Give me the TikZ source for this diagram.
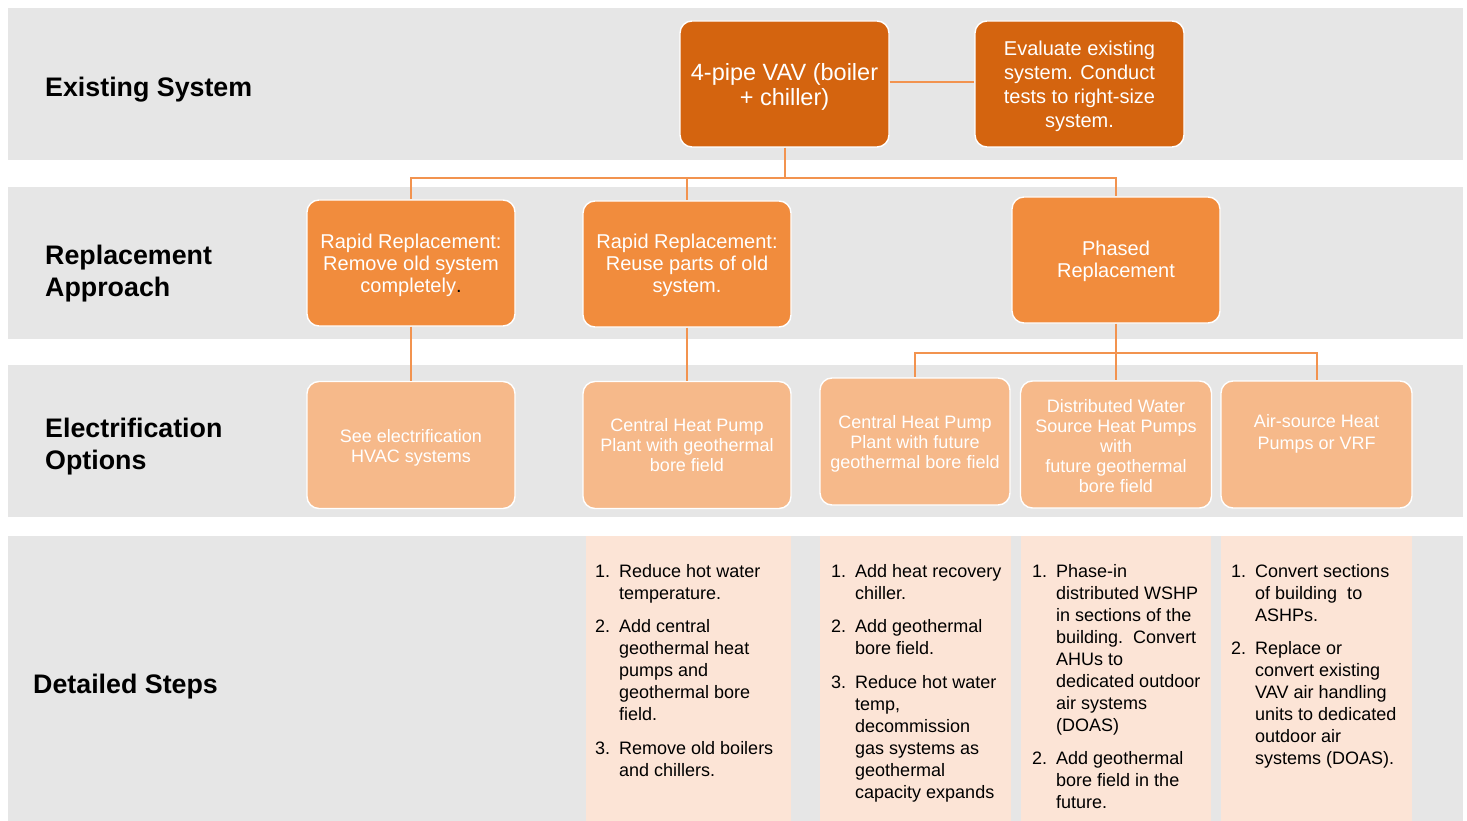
\documentclass[tikz,border=0pt]{standalone}
\usepackage{fontspec}
\setmainfont{Liberation Sans}
\usetikzlibrary{calc}

\definecolor{bandgray}{HTML}{E6E6E6}
\definecolor{darkorg}{HTML}{D4640F}
\definecolor{midorg}{HTML}{F18C3D}
\definecolor{peachorg}{HTML}{F6B98A}
\definecolor{stepfill}{HTML}{FCE4D6}
\definecolor{linecol}{HTML}{F2934F}

% numbered step paragraphs with a hanging indent
\newcommand{\stepline}[2]{\hangindent=24pt\hangafter=1\noindent\makebox[24pt][l]{#1}#2\par}
\newcommand{\steplist}[1]{\vtop{\hsize=240pt\fontsize{18}{22}\selectfont\parindent=0pt\parskip=11.5pt\relax #1}}
% centred box text, lowered a little without changing its size
\newcommand{\boxtxt}[2][-2.5pt]{\raisebox{#1}[\height][\depth]{\begin{tabular}{@{}c@{}}#2\end{tabular}}}

\tikzset{
  rowlabel/.style={anchor=west, align=left, inner sep=0pt, text=black,
    font=\fontsize{26.8}{32}\selectfont\bfseries},
  boxbase/.style={rounded corners=12pt, draw=white, line width=1.4pt,
    align=center, text=white, inner sep=3pt},
  sysbox/.style={boxbase, fill=darkorg, minimum width=209pt, minimum height=126pt},
  appbox/.style={boxbase, fill=midorg, minimum width=208pt, minimum height=126pt,
    font=\fontsize{20}{22}\selectfont},
  optbox/.style={boxbase, fill=peachorg, minimum height=127pt,
    font=\fontsize{18}{20}\selectfont},
  stepcol/.style={fill=stepfill, anchor=north west, inner sep=0pt, minimum height=285pt},
  steptext/.style={anchor=base west, inner sep=0pt, text=black},
  conn/.style={draw=linecol, line width=2pt},
}

\begin{document}
\begin{tikzpicture}[x=1pt, y=-1pt]
  \fill[white] (0,0) rectangle (1467,821);
  \useasboundingbox (0,0) rectangle (1467,821);

  % horizontal bands
  \fill[bandgray] (8,8) rectangle (1463,160);
  \fill[bandgray] (8,187) rectangle (1463,339);
  \fill[bandgray] (8,365) rectangle (1463,517);
  \fill[bandgray] (8,536) rectangle (1463,821);

  % row labels
  \node[rowlabel] (L1) at (45,90) {Existing System};
  \node[rowlabel] (L2) at (45,274) {Replacement\\Approach};
  \node[rowlabel] (L3) at (45,447) {Electrification\\Options};
  \node[rowlabel] (L4) at (33,687) {Detailed Steps};

  % existing system
  \node[sysbox, font=\fontsize{23.5}{25}\selectfont] (A) at (784.5,84) {\boxtxt[-4.5pt]{4-pipe VAV (boiler\\+ chiller)}};
  \node[sysbox, font=\fontsize{20}{24}\selectfont] (B) at (1079.5,84) {\boxtxt{Evaluate existing\\system. Conduct\\tests to right-size\\system.}};

  % replacement approach
  \node[appbox] (R1) at (411,263) {\boxtxt[-3pt]{Rapid Replacement:\\Remove old system\\completely{\color{black}.}}};
  \node[appbox] (R2) at (687,264) {\boxtxt[-2.5pt]{Rapid Replacement:\\Reuse parts of old\\system.}};
  \node[appbox] (R3) at (1116,260) {\boxtxt[-2pt]{Phased\\Replacement}};

  % electrification options
  \node[optbox, minimum width=208pt] (E1) at (411,445) {\boxtxt[-3pt]{See electrification\\HVAC systems}};
  \node[optbox, minimum width=208pt] (E2) at (687,445) {Central Heat Pump\\Plant with geothermal\\bore field};
  \node[optbox, minimum width=190pt] (E3) at (915,441.5) {\boxtxt[-3pt]{Central Heat Pump\\Plant with future\\geothermal bore field}};
  \node[optbox, minimum width=191pt] (E4) at (1116,444.5) {\boxtxt[-4pt]{Distributed Water\\Source Heat Pumps\\with\\future geothermal\\bore field}};
  \node[optbox, minimum width=191pt, font=\fontsize{18}{22}\selectfont] (E5) at (1316.5,444.5) {\boxtxt[-1pt]{Air-source Heat\\Pumps or VRF\\\mbox{}}};

  % connectors
  \coordinate (busA) at (786,178);
  \coordinate (busB) at (1116,353);
  \draw[conn] ([yshift=2pt]A.east) -- ([yshift=2pt]B.west);
  \draw[conn] (A.south) -- (A.south |- busA) -| (R1.north);
  \draw[conn] (A.south |- busA) -| (R2.north);
  \draw[conn] (A.south |- busA) -| (R3.north);
  \draw[conn] (R1.south) -- (E1.north);
  \draw[conn] (R2.south) -- (E2.north);
  \draw[conn] (R3.south) -- (busB) -| (E3.north);
  \draw[conn] (busB) -- (E4.north);
  \draw[conn] (busB) -| (E5.north);

  % detailed steps
  \node[stepcol, minimum width=205pt] (C1) at (586,536) {};
  \node[stepcol, minimum width=191pt] (C2) at (820,536) {};
  \node[stepcol, minimum width=190pt] (C3) at (1021,536) {};
  \node[stepcol, minimum width=191pt] (C4) at (1221,536) {};

  \node[steptext] (T1) at (595,577) {\steplist{%
    \stepline{1.}{Reduce hot water\newline temperature.}
    \stepline{2.}{Add central\newline geothermal heat\newline pumps and\newline geothermal bore\newline field.}
    \stepline{3.}{Remove old boilers\newline and chillers.}}};
  \node[steptext] (T2) at (831,577) {\steplist{%
    \stepline{1.}{Add heat recovery\newline chiller.}
    \stepline{2.}{Add geothermal\newline bore field.}
    \stepline{3.}{Reduce hot water\newline temp,\newline decommission\newline gas systems as\newline geothermal\newline capacity expands}}};
  \node[steptext] (T3) at (1032,577) {\steplist{%
    \stepline{1.}{Phase-in\newline distributed WSHP\newline in sections of the\newline building.\ \ Convert\newline AHUs to\newline dedicated outdoor\newline air systems\newline (DOAS)}
    \stepline{2.}{Add geothermal\newline bore field in the\newline future.}}};
  \node[steptext] (T4) at (1231,577) {\steplist{%
    \stepline{1.}{Convert sections\newline of building\ \ to\newline ASHPs.}
    \stepline{2.}{Replace or\newline convert existing\newline VAV air handling\newline units to dedicated\newline outdoor air\newline systems (DOAS).}}};
\end{tikzpicture}
\end{document}
